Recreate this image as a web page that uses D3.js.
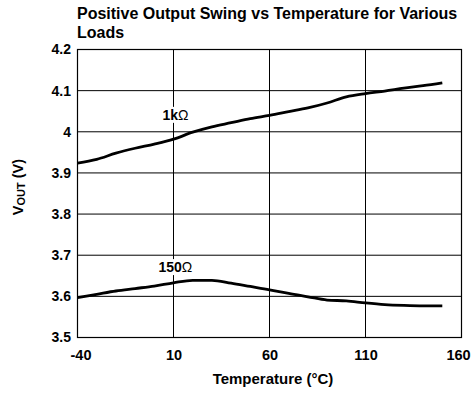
<!DOCTYPE html>
<html><head><meta charset="utf-8">
<script src="https://cdn.jsdelivr.net/npm/d3@7"></script>
<style>body{margin:0;background:#fff;} text{font-family:"Liberation Sans",Arial,sans-serif;font-weight:bold;}</style>
</head><body><svg id="c" width="472" height="400"></svg>
<script>
const temps = [-40,-30,-20,-10,0,10,20,30,40,50,60,70,80,90,100,110,120,130,140,150];
const load1k = [3.924,3.933,3.948,3.960,3.970,3.982,3.999,4.012,4.022,4.032,4.040,4.049,4.058,4.070,4.085,4.093,4.099,4.106,4.112,4.119];
const load150 = [3.597,3.605,3.613,3.619,3.625,3.633,3.639,3.639,3.632,3.624,3.616,3.607,3.599,3.591,3.589,3.584,3.580,3.578,3.577,3.577];
const xTicks = [-40,10,60,110,160];
const yTicks = [3.5,3.6,3.7,3.8,3.9,4.0,4.1,4.2];
const seriesLabels = [["1k","\u03A9"],["150","\u03A9"]];
const labelPos = [[11,4.029],[11,3.659]];

const svg = d3.select("#c");
const L=77.5,R=461.5,T=49.5,B=337.5;
const x = d3.scaleLinear().domain([-40,160]).range([L,R]);
const y = d3.scaleLinear().domain([3.5,4.2]).range([B,T]);

// grid
svg.append("g").selectAll("line").data(xTicks).join("line")
  .attr("x1",d=>x(d)).attr("x2",d=>x(d)).attr("y1",T).attr("y2",B)
  .attr("stroke","#000").attr("stroke-width",1);
svg.append("g").selectAll("line").data(yTicks).join("line")
  .attr("x1",L).attr("x2",R).attr("y1",d=>y(d)).attr("y2",d=>y(d))
  .attr("stroke","#000").attr("stroke-width",1);

// axes labels
const xa = svg.append("g").attr("transform",`translate(0,${B})`)
  .call(d3.axisBottom(x).tickValues(xTicks).tickSize(0).tickPadding(12.5).tickFormat(d=>String(d)));
xa.select(".domain").remove();
xa.selectAll("text").attr("font-size",14.5).attr("fill","#000").style("font-family","Liberation Sans, Arial, sans-serif").style("font-weight","bold");
xa.selectAll("text").filter(d=>d===xTicks[0]).attr("dx",3);
xa.selectAll("text").filter(d=>d===xTicks[xTicks.length-1]).attr("dx",-3.5);
const ya = svg.append("g").attr("transform",`translate(${L},0)`)
  .call(d3.axisLeft(y).tickValues(yTicks).tickSize(0).tickPadding(6.5).tickFormat(d=>String(+d.toFixed(1))));
ya.select(".domain").remove();
ya.selectAll("text").attr("font-size",14).attr("fill","#000").style("font-family","Liberation Sans, Arial, sans-serif").style("font-weight","bold");

// lines
const line = d3.line().x((d,i)=>x(temps[i])).y(d=>y(d)).curve(d3.curveMonotoneX);
[load1k,load150].forEach(s=>{
  svg.append("path").attr("d",line(s)).attr("fill","none").attr("stroke","#000").attr("stroke-width",2.8);
});

// series labels with white background
seriesLabels.forEach((t,i)=>{
  const g = svg.append("g");
  const tx = g.append("text").attr("x",x(labelPos[i][0])).attr("y",y(labelPos[i][1])).attr("text-anchor","middle")
    .attr("font-size",14);
  tx.append("tspan").text(t[0]);
  tx.append("tspan").attr("font-weight","normal").style("font-weight","normal").text(t[1]);
  const bb = tx.node().getBBox();
  g.insert("rect","text").attr("x",bb.x-4).attr("y",bb.y).attr("width",bb.width+8).attr("height",bb.height).attr("fill","#fff");
});

// border
svg.append("rect").attr("x",L).attr("y",T).attr("width",R-L).attr("height",B-T).attr("fill","none").attr("stroke","#000").attr("stroke-width",1.2);

// title
const title = svg.append("text").attr("x",77).attr("font-size",16);
title.append("tspan").attr("x",77).attr("y",18.5).text("Positive Output Swing vs Temperature for Various");
title.append("tspan").attr("x",77).attr("y",37.5).text("Loads");

// x title
svg.append("text").attr("x",273).attr("y",383.5).attr("text-anchor","middle").attr("font-size",15).text("Temperature (\u00B0C)");
// y title
const yt = svg.append("text").attr("transform","translate(23,187) rotate(-90)").attr("text-anchor","middle").attr("font-size",14.5);
yt.append("tspan").text("V");
yt.append("tspan").attr("font-size",11).attr("dy",2).text("OUT");
yt.append("tspan").attr("dy",-2).text(" (V)");
</script></body></html>
